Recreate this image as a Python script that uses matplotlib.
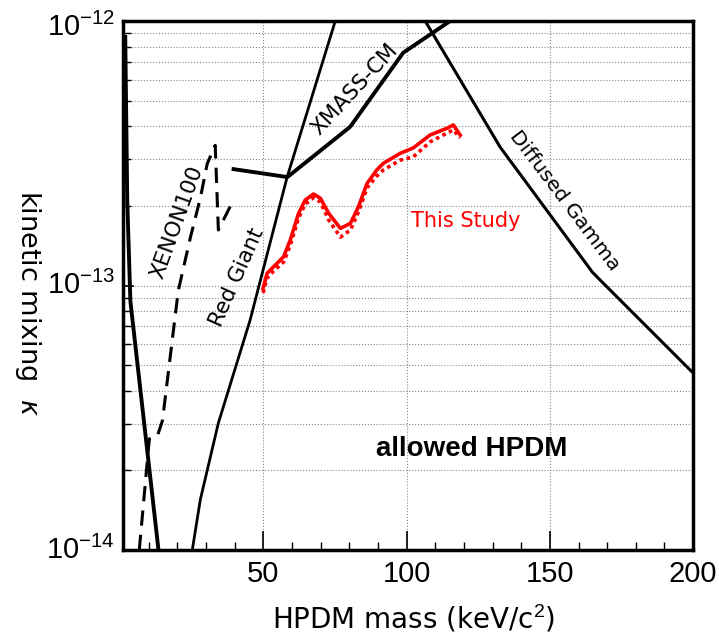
import matplotlib.pyplot as plt
import matplotlib.transforms as mtransforms
import numpy as np
from matplotlib.ticker import LogLocator, MultipleLocator, NullFormatter, FixedLocator

plt.rcParams['font.family'] = ['Liberation Sans', 'DejaVu Sans']
plt.rcParams['mathtext.fontset'] = 'custom'
plt.rcParams['mathtext.rm'] = 'Liberation Sans'
plt.rcParams['mathtext.it'] = 'DejaVu Sans:italic'

# exclusion curves (mass in keV/c^2, log10 of kappa)
left_x = [1.8, 2.5, 3.6, 13.4]
left_logk = [-12.06, -12.68, -13.06, -14.0]

xenon_x = [6.7, 10.2, 13.0, 14.8, 20.3, 24.5, 28.0, 30.4, 33.2, 34.3, 38.5]
xenon_logk = [-14.0, -13.58, -13.57, -13.51, -13.02, -12.82, -12.67, -12.54, -12.47, -12.79, -12.70]

redgiant_x = [25.2, 28.0, 34.3, 45.4, 58.3, 75.1]
redgiant_logk = [-14.0, -13.81, -13.52, -13.13, -12.59, -12.0]

xmass_x = [39.6, 58.4, 80.3, 98.8, 115.2]
xmass_logk = [-12.56, -12.59, -12.40, -12.12, -12.0]

gamma_x = [106.5, 132.6, 164.8, 167.6, 199.0, 200.0]
gamma_logk = [-12.0, -12.476, -12.949, -12.98, -13.32, -13.33]

# this study
study_x = [49.9, 51.3, 53.6, 57.1, 59.4, 62.3, 64.6, 67.5, 69.9, 72.8, 76.9, 80.4,
           83.2, 86.2, 89.6, 91.9, 97.8, 102.3, 108.2, 114.2, 116.3, 118.7]
study_logk = [-13.011, -12.954, -12.929, -12.891, -12.828, -12.727, -12.677, -12.654,
              -12.670, -12.727, -12.784, -12.765, -12.702, -12.614, -12.563, -12.538,
              -12.500, -12.480, -12.431, -12.405, -12.393, -12.431]
study2_logk = [-13.028, -12.972, -12.945, -12.911, -12.847, -12.745, -12.692, -12.669,
               -12.684, -12.752, -12.817, -12.790, -12.722, -12.631, -12.586, -12.563,
               -12.526, -12.514, -12.457, -12.423, -12.412, -12.442]

xticks = [50, 100, 150, 200]
ydecades = [-14, -13, -12]

def k(v):
    return 10.0 ** np.array(v)

fig = plt.figure(figsize=(7.19, 6.37), dpi=100)
ax = fig.add_axes([0.171, 0.1366, 0.793, 0.8304])

ax.plot(left_x, k(left_logk), color='black', lw=2.8)
ax.plot(xenon_x, k(xenon_logk), color='black', lw=2.2, ls=(0, (5, 3)))
ax.plot(redgiant_x, k(redgiant_logk), color='black', lw=2.0)
ax.plot(xmass_x, k(xmass_logk), color='black', lw=2.8)
ax.plot(gamma_x, k(gamma_logk), color='black', lw=2.2)

ax.plot(study_x, k(study2_logk), color='red', lw=2.6, ls=(0, (1, 1)))
ax.plot(study_x, k(study_logk), color='red', lw=2.6)

ax.set_yscale('log')
ax.set_xlim(1, 200)
ax.set_ylim(1e-14, 1e-12)

ax.xaxis.set_major_locator(FixedLocator(xticks))
ax.xaxis.set_minor_locator(MultipleLocator(10))
ax.yaxis.set_major_locator(LogLocator(base=10))
ax.yaxis.set_minor_locator(LogLocator(base=10, subs=np.arange(2, 10)))
ax.yaxis.set_minor_formatter(NullFormatter())
ax.set_yticklabels([])

ax.tick_params(which='major', direction='in', length=14, width=1.2)
ax.tick_params(axis='x', which='major', labelsize=21, pad=7)
ax.tick_params(axis='y', which='major', length=8)
ax.tick_params(which='minor', direction='in', length=6, width=1.0)

# y tick labels as plain texts (top one sits a little lower, as in the original)
ytrans = mtransforms.blended_transform_factory(ax.transAxes, ax.transData)
for d in ydecades:
    yy = 10.0 ** d
    off = -6 if d == -12 else 0
    ax.text(-0.014, yy, '$\\mathregular{10^{%d}}$' % d,
            transform=ytrans + mtransforms.ScaledTranslation(0, off / 100, fig.dpi_scale_trans),
            ha='right', va='center', fontsize=21, clip_on=False)

ax.grid(True, axis='x', which='major', color='#888888', ls=':', lw=0.8)
ax.grid(True, axis='y', which='both', color='#888888', ls=':', lw=0.8)

for s in ax.spines.values():
    s.set_linewidth(2.5)

ax.set_xlabel('HPDM mass (keV/c$^2$)', fontsize=20, family='DejaVu Sans')
ax.xaxis.set_label_coords(0.51, -0.10)
ax.set_ylabel('kinetic mixing  $\\mathit{\\kappa}$', fontsize=19.5, family='DejaVu Sans',
              rotation=270, va='center', ha='center')
ax.yaxis.set_label_coords(-0.167, 0.467)

ax.text(20, 10**-12.76, 'XENON100', rotation=70, fontsize=15.5, family='DejaVu Sans',
        ha='center', va='center')
ax.text(40.9, 10**-12.97, 'Red Giant', rotation=66, fontsize=15.5, family='DejaVu Sans',
        ha='center', va='center')
ax.text(82, 10**-12.26, 'XMASS-CM', rotation=47, fontsize=15.5, family='DejaVu Sans',
        ha='center', va='center')
ax.text(155.3, 10**-12.68, 'Diffused Gamma', rotation=-53, fontsize=14.5, family='DejaVu Sans',
        ha='center', va='center')
ax.text(120.5, 10**-12.756, 'This Study', color='red', fontsize=15, family='DejaVu Sans',
        ha='center', va='center')
ax.text(122.8, 10**-13.62, 'allowed HPDM', fontsize=20, fontweight='bold',
        ha='center', va='center')

fig.savefig('out.png', dpi=100)
